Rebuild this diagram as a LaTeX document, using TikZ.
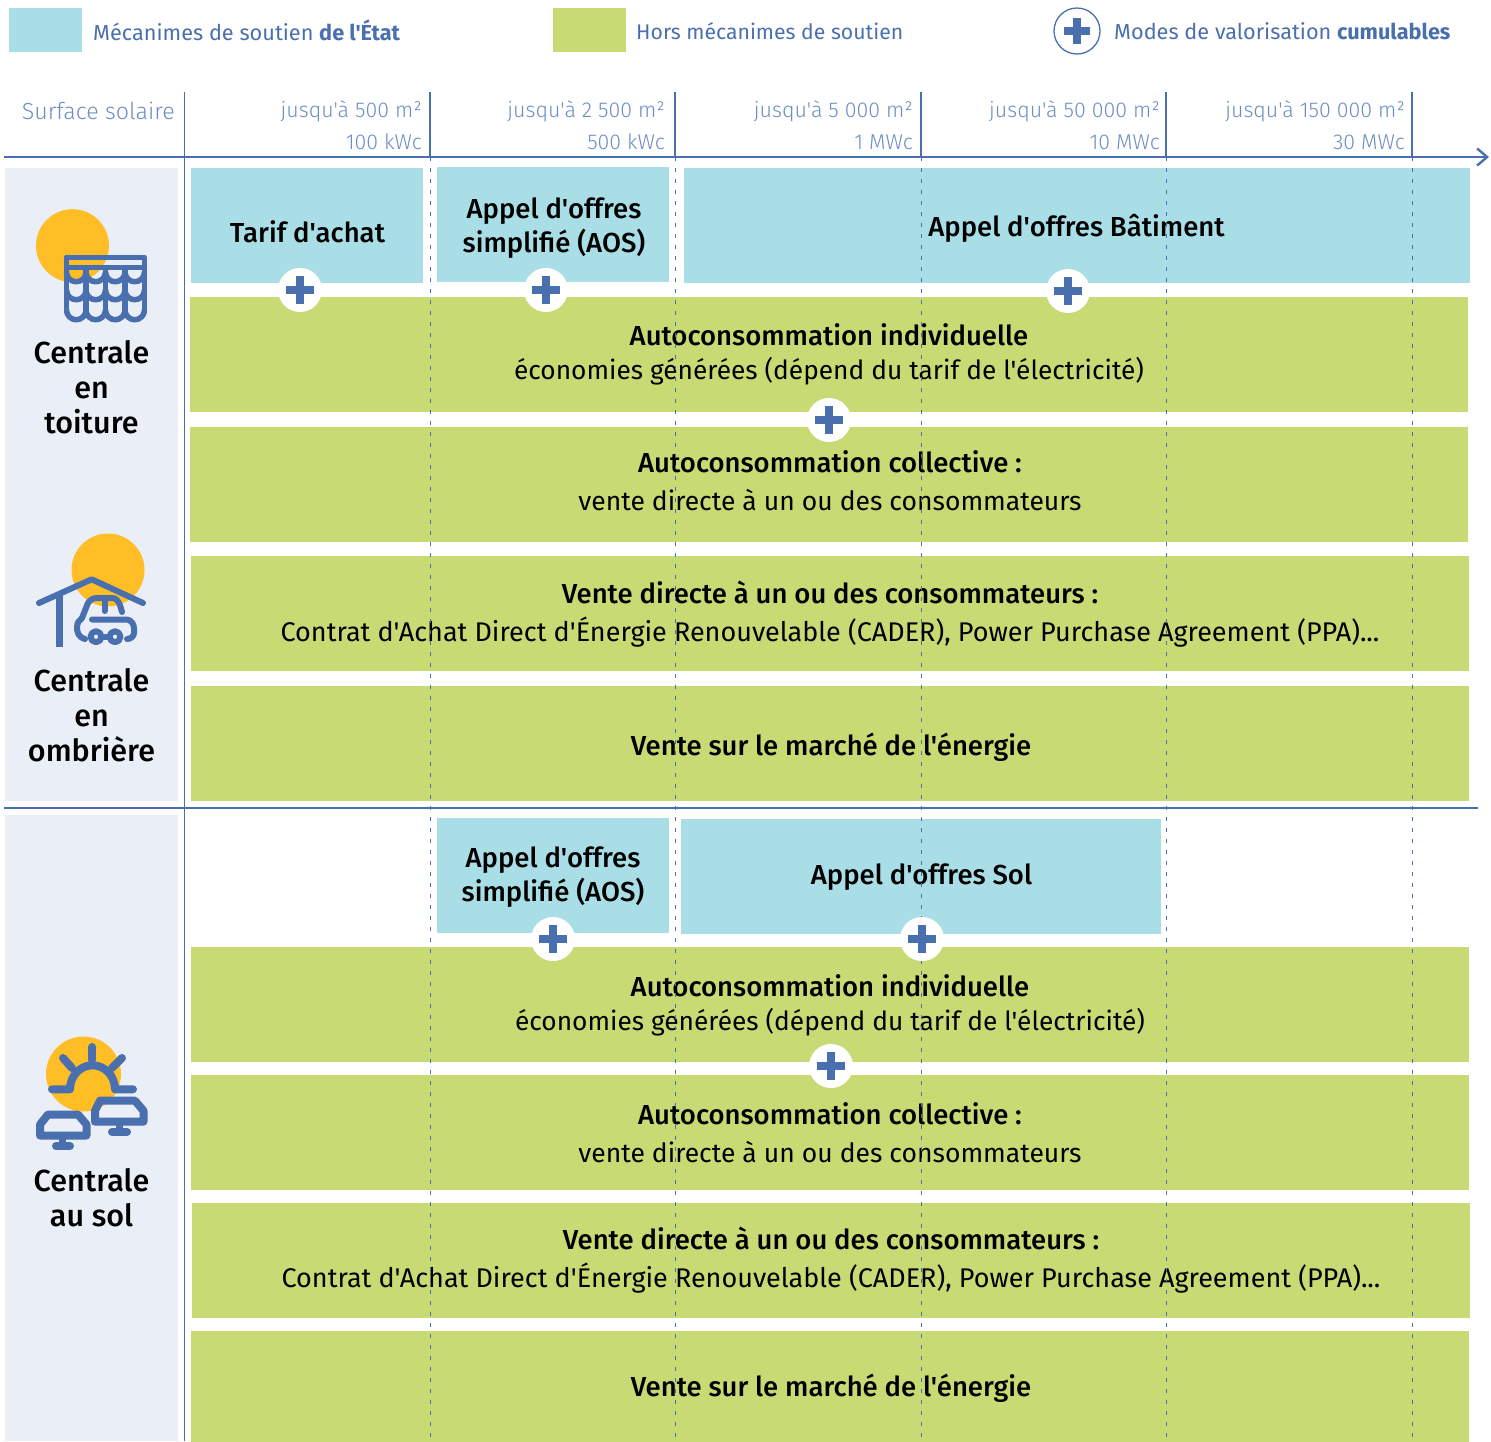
\documentclass[tikz,border=0pt]{standalone}
\usepackage{fontspec}
\setmainfont{Fira Sans}
\newfontfamily\regf{Fira Sans}
\newfontfamily\lightf{Fira Sans Light}
\newfontfamily\medf{Fira Sans Medium}
\newfontfamily\bldf{Fira Sans Bold}
\usetikzlibrary{arrows.meta,calc}
\definecolor{ablue}{HTML}{4A6FAE}
\definecolor{lblue}{HTML}{6C8DC2}
\definecolor{teal}{HTML}{A9DEE7}
\definecolor{grn}{HTML}{C8DA73}
\definecolor{pan}{HTML}{EAEFF7}
\definecolor{sun}{HTML}{FFBE26}
\newcommand{\mbA}{\medf\fontsize{27.5}{34}\selectfont}
\newcommand{\mbB}{\medf\fontsize{27.5}{38}\selectfont}
\newcommand{\rgA}{\regf\fontsize{26.3}{34}\selectfont}
\newcommand{\rgB}{\regf\fontsize{26.5}{38}\selectfont}
\newcommand{\rgC}{\regf\fontsize{27}{38}\selectfont}
\tikzset{
 x=1pt,y=-1pt,
 tealbox/.style={fill=teal,inner sep=0},
 grnbox/.style={fill=grn,inner sep=0},
 panbox/.style={fill=pan,inner sep=0},
 lbl/.style={text=black,align=center,inner sep=0,font=\fontsize{27}{34}\selectfont},
 lblw/.style={text=black,align=center,inner sep=0,font=\fontsize{27}{38}\selectfont},
 catlbl/.style={font=\medf\fontsize{30.5}{35}\selectfont,text=black,align=center,inner sep=0},
 axl/.style={font=\lightf\fontsize{21.4}{32}\selectfont,text=lblue,align=right,anchor=east,inner sep=0},
 leg/.style={text=ablue,anchor=west,inner sep=0},
 axisline/.style={draw=ablue,line width=2.2pt},
 tick/.style={draw=ablue,line width=1.2pt},
 dashv/.style={draw=ablue,line width=1pt,dash pattern=on 4pt off 7pt},
 plusdisc/.style={circle,fill=white,minimum size=44pt,inner sep=0},
 ico/.style={draw=ablue,line width=5.5pt,line cap=round,line join=round},
}
\newcommand{\pl}[3]{\node[plusdisc] (#1) at (#2,#3) {};\fill[ablue] ($(#1)+(-14,-4)$) rectangle ($(#1)+(14,4)$);\fill[ablue] ($(#1)+(-4,-14)$) rectangle ($(#1)+(4,14)$);}
\newcommand{\tiles}[2]{\foreach \i in {0,1,2,3}{\draw[ico,line cap=butt] ({#1+\i*19.5},#2) arc[start angle=180,end angle=360,x radius=9.75,y radius=-9.75];}}
\begin{document}
\begin{tikzpicture}
\useasboundingbox (0,0) rectangle (1491,1441);
% legend
\node[tealbox,minimum width=73pt,minimum height=44pt] (sw1) at (45.5,30) {};
\node[leg,font=\regf\fontsize{21.7}{28}\selectfont] (lg1) at (93,30) {Mécanimes de soutien {\bldf de l'État}};
\node[grnbox,minimum width=73pt,minimum height=44pt] (sw2) at (589.5,30) {};
\node[leg,font=\regf\fontsize{21.2}{28}\selectfont] (lg2) at (636,31) {Hors mécanimes de soutien};
\node[circle,draw=ablue,line width=1.3pt,fill=white,minimum size=46pt,inner sep=0] (lgp) at (1077,31) {};
\fill[ablue] ($(lgp)+(-13,-4)$) rectangle ($(lgp)+(13,4)$);
\fill[ablue] ($(lgp)+(-4,-13)$) rectangle ($(lgp)+(4,13)$);
\node[leg,font=\regf\fontsize{21.7}{28}\selectfont] (lg3) at (1114,31) {Modes de valorisation {\bldf cumulables}};
% side panels
\node[panbox,minimum width=173pt,minimum height=633pt] (p1) at (91.5,484.5) {};
\node[panbox,minimum width=173pt,minimum height=626pt] (p2) at (91.5,1128) {};
% boxes
\node[tealbox,minimum width=232pt,minimum height=115pt] (b1) at (307,225.5) {};
\node[tealbox,minimum width=232pt,minimum height=115pt] (b2) at (553,224.5) {};
\node[tealbox,minimum width=786pt,minimum height=115pt] (b3) at (1077,225.5) {};
\node[grnbox,minimum width=1278pt,minimum height=115pt] (g1) at (829,354.5) {};
\node[grnbox,minimum width=1278pt,minimum height=115pt] (g2) at (829,484.5) {};
\node[grnbox,minimum width=1278pt,minimum height=115pt] (g3) at (830,613.5) {};
\node[grnbox,minimum width=1278pt,minimum height=115pt] (g4) at (830,743.5) {};
\node[tealbox,minimum width=232pt,minimum height=115pt] (b4) at (553,875.5) {};
\node[tealbox,minimum width=480pt,minimum height=115pt] (b5) at (921,876.5) {};
\node[grnbox,minimum width=1278pt,minimum height=115pt] (g5) at (830,1004.5) {};
\node[grnbox,minimum width=1278pt,minimum height=115pt] (g6) at (830,1132.5) {};
\node[grnbox,minimum width=1278pt,minimum height=115pt] (g7) at (831,1260.5) {};
\node[grnbox,minimum width=1278pt,minimum height=112pt] (g8) at (830,1387) {};
% box texts
\node[lbl] (t1) at (307.5,232) {\mbA Tarif d'achat};
\node[lbl] (t2) at (554,228) {\mbA Appel d'offres\\\mbA simplifié (AOS)};
\node[lbl] (t3) at (1076.5,228) {\mbA Appel d'offres Bâtiment};
\node[lbl] (t4) at (829,354) {\mbA Autoconsommation individuelle\\\rgA économies générées (dépend du tarif de l'électricité)};
\node[lblw] (t5) at (830,481) {\mbB Autoconsommation collective :\\\rgB vente directe à un ou des consommateurs};
\node[lblw] (t6) at (830,614) {\mbB Vente directe à un ou des consommateurs :\\\rgC Contrat d'Achat Direct d'Énergie Renouvelable (CADER), Power Purchase Agreement (PPA)...};
\node[lbl] (t7) at (831,747) {\mbA Vente sur le marché de l'énergie};
\node[lbl] (t8) at (553,877) {\mbA Appel d'offres\\\mbA simplifié (AOS)};
\node[lbl] (t9) at (921.5,877) {\mbA Appel d'offres Sol};
\node[lbl] (t10) at (830,1005) {\mbA Autoconsommation individuelle\\\rgA économies générées (dépend du tarif de l'électricité)};
\node[lblw] (t11) at (830,1133) {\mbB Autoconsommation collective :\\\rgB vente directe à un ou des consommateurs};
\node[lblw] (t12) at (831,1260) {\mbB Vente directe à un ou des consommateurs :\\\rgC Contrat d'Achat Direct d'Énergie Renouvelable (CADER), Power Purchase Agreement (PPA)...};
\node[lbl] (t13) at (831,1388) {\mbA Vente sur le marché de l'énergie};
% axis lines
\coordinate (a0) at (4,157); \coordinate (a1) at (1489,157);
\draw[axisline,-{Straight Barb[length=10pt,width=17pt,line width=2.4pt]}] (a0) -- (a1);
\coordinate (c0) at (4,808); \coordinate (c1) at (1478,808);
\draw[axisline] (c0) -- (c1);
\coordinate (v0) at (184.5,92); \coordinate (v1) at (184.5,1441);
\draw[tick,line width=1.6pt] (v0) -- (v1);
\foreach \n/\x in {A/430,B/675,C/921,D/1166,E/1412}{
 \coordinate (\n0) at (\x,92); \coordinate (\n1) at (\x,157); \coordinate (\n2) at (\x,1441);
 \draw[tick] (\n0) -- (\n1);
 \draw[dashv] (\n1) -- (\n2);
}
\node[axl,font=\lightf\fontsize{23.2}{32}\selectfont] (s0) at (175,111) {Surface solaire};
\node[axl] (s1) at (422,125) {jusqu'à 500 m²\\100 kWc};
\node[axl] (s2) at (665,125) {jusqu'à 2 500 m²\\500 kWc};
\node[axl] (s3) at (913,125) {jusqu'à 5 000 m²\\1 MWc};
\node[axl] (s4) at (1160,125) {jusqu'à 50 000 m²\\10 MWc};
\node[axl] (s5) at (1405,125) {jusqu'à 150 000 m²\\30 MWc};
% plus marks
\pl{q1}{300}{290}\pl{q2}{546}{290}\pl{q3}{1068}{291}\pl{q4}{829}{420}
\pl{q5}{553}{939}\pl{q6}{922}{939}\pl{q7}{831}{1066}
% category labels
\node[catlbl] (n1) at (91.5,387) {Centrale\\en\\toiture};
\node[catlbl] (n2) at (91.5,715) {Centrale\\en\\ombrière};
\node[catlbl] (n3) at (91.5,1198) {Centrale\\au sol};
% icon roof
\fill[sun] (72.5,245.7) circle[radius=36.5];
\draw[ico] (66.5,257.5) -- (144.5,257.5) -- (144.5,310) (66.5,257.5) -- (66.5,310);
\draw[ico,line cap=butt] (66.5,267.5) -- (144.5,267.5);
\foreach \xx in {86,105.5,125}{\draw[ico,line cap=butt] (\xx,268) -- (\xx,310);}
\tiles{66.5}{272}\tiles{66.5}{290}\tiles{66.5}{310}
% icon carport
\fill[sun] (108,570) circle[radius=36.5];
\draw[ico,line width=6pt] (39,603) -- (91.7,579.3) -- (143,603);
\draw[ico,line width=7pt,line cap=butt] (59,595) -- (59,647);
\draw[ico,line width=6pt] (85,639) .. controls (78,637) and (77,632) .. (77,627) .. controls (77,622) and (80,620) .. (82,618) -- (88,603) .. controls (90,600) and (93,598) .. (97,598) -- (112,598) .. controls (116,598) and (119,600) .. (122,612);
\draw[ico,line width=6pt] (92,619.5) -- (127,619.5) .. controls (131,620) and (134,624) .. (134,628) -- (134,633) .. controls (134,636) and (131,639) .. (127,639);
\draw[ico,line width=6pt] (96,636.7) circle[radius=5.5];
\draw[ico,line width=6pt] (115,636.7) circle[radius=5.5];
\draw[ico,line width=6pt,line cap=butt] (101,636.7) -- (110,636.7);
\draw[ico,line width=6pt] (104.5,600) -- (104.5,611);
% icon solar
\fill[sun] (83.5,1074) circle[radius=37.5];
\draw[ico,line width=8pt] (52,1089.3) -- (70,1089.3) arc[start angle=180,end angle=0,x radius=22.5,y radius=-24] -- (133,1089.3);
\draw[ico,line width=8pt] (92.3,1047) -- (92.3,1060);
\draw[ico,line width=8pt] (63,1058) -- (72,1068);
\draw[ico,line width=8pt] (122,1058) -- (112,1068);
\draw[ico,line width=8pt] (100,1100.7) -- (135,1100.7) -- (143.5,1110.7) -- (143.5,1121.7) -- (95,1121.7) -- (95,1110.7) -- cycle;
\draw[ico,line width=7pt,line cap=butt] (119,1123) -- (119,1131.7);
\draw[ico,line width=8pt] (112,1131.7) -- (127,1131.7);
\draw[ico,line width=8pt] (48,1114.5) -- (78,1114.5) -- (86.5,1124.5) -- (86.5,1135.5) -- (40,1135.5) -- (40,1124.5) -- cycle;
\draw[ico,line width=7pt,line cap=butt] (62.7,1137) -- (62.7,1146);
\draw[ico,line width=8pt] (56,1146) -- (70,1146);
\end{tikzpicture}
\end{document}
